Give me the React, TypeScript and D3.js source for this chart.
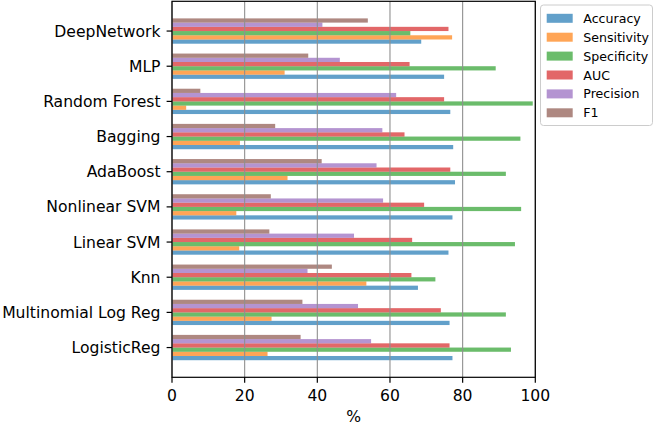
import React from "react";
import * as d3 from "d3";

const categories = [
  "LogisticReg",
  "Multinomial Log Reg",
  "Knn",
  "Linear SVM",
  "Nonlinear SVM",
  "AdaBoost",
  "Bagging",
  "Random Forest",
  "MLP",
  "DeepNetwork",
];
const seriesNames = ["Accuracy", "Sensitivity", "Specificity", "AUC", "Precision", "F1"];
const accuracy = [77.2, 76.4, 67.7, 76.1, 77.2, 77.9, 77.4, 76.6, 74.9, 68.6];
const sensitivity = [26.3, 27.4, 53.5, 18.5, 17.7, 31.8, 18.7, 3.9, 31.0, 77.1];
const specificity = [93.3, 91.9, 72.5, 94.4, 96.1, 91.9, 95.9, 99.3, 89.1, 65.6];
const auc = [76.4, 74.0, 65.9, 66.1, 69.4, 76.6, 64.0, 74.9, 65.4, 76.1];
const precision = [54.8, 51.2, 37.3, 50.1, 58.1, 56.3, 57.9, 61.7, 46.2, 41.4];
const f1 = [35.4, 35.9, 44.0, 26.8, 27.2, 41.2, 28.4, 7.8, 37.5, 53.9];
const xTicks = [0, 20, 40, 60, 80, 100];

const seriesValues = [accuracy, sensitivity, specificity, auc, precision, f1];
const colors = ["#1f77b4", "#ff7f0e", "#2ca02c", "#d62728", "#9467bd", "#8c564b"];

const W = 656;
const H = 424;
const left = 172;
const right = 535.3;
const top = 1.3;
const bottom = 377.3;
const barW = 0.12;
const FONT = "DejaVu Sans, sans-serif";
const FS = 15.6;

export default function App() {
  const x = d3.scaleLinear().domain([0, 100]).range([left, right]);
  const y = d3.scaleLinear().domain([-0.846, 9.846]).range([bottom, top]);
  const bh = y(0) - y(barW);

  return (
    <div style={{ position: "fixed", left: 0, top: 0 }}>
      <svg width={W} height={H} style={{ display: "block", background: "#fff" }}>
        {/* bars */}
        {categories.map((c, ci) => (
          <g key={c}>
            {seriesValues.map((vals, si) => {
              const center = ci + (si - 2.5) * barW;
              return (
                <rect
                  key={si}
                  x={x(0)}
                  y={y(center + barW / 2)}
                  width={x(vals[ci]) - x(0)}
                  height={bh}
                  fill={colors[si]}
                  fillOpacity={0.7}
                />
              );
            })}
          </g>
        ))}
        {/* grid */}
        {xTicks.map((t) => (
          <line
            key={"g" + t}
            x1={x(t)}
            x2={x(t)}
            y1={top}
            y2={bottom}
            stroke="#8f8f8f"
            strokeWidth={1.1}
          />
        ))}
        {/* spines */}
        <rect
          x={left}
          y={top}
          width={right - left}
          height={bottom - top}
          fill="none"
          stroke="#000"
          strokeWidth={1.2}
        />
        {/* x ticks */}
        {xTicks.map((t) => (
          <g key={"xt" + t}>
            <line x1={x(t)} x2={x(t)} y1={bottom} y2={bottom + 5.4} stroke="#000" strokeWidth={1.2} />
            <text
              x={x(t)}
              y={bottom + 24}
              textAnchor="middle"
              fontFamily={FONT}
              fontSize={FS}
              fill="#000"
            >
              {t}
            </text>
          </g>
        ))}
        <text x={(left + right) / 2} y={421.5} textAnchor="middle" fontFamily={FONT} fontSize={FS}>
          %
        </text>
        {/* y ticks */}
        {categories.map((c, ci) => (
          <g key={"yt" + c}>
            <line x1={left - 5.4} x2={left} y1={y(ci)} y2={y(ci)} stroke="#000" strokeWidth={1.2} />
            <text
              x={left - 11.5}
              y={y(ci)}
              dy="0.36em"
              textAnchor="end"
              fontFamily={FONT}
              fontSize={FS}
              fill="#000"
            >
              {c}
            </text>
          </g>
        ))}
        {/* legend */}
        <rect x={540.5} y={5} width={112} height={120.5} rx={3} fill="#fff" fillOpacity={0.8} stroke="#cccccc" strokeWidth={1} />
        {seriesNames.map((s, si) => {
          const cy = 18.3 + si * 18.9;
          return (
            <g key={"lg" + s}>
              <rect x={546.7} y={cy - 4.5} width={26} height={9} fill={colors[si]} fillOpacity={0.7} />
              <text x={583.3} y={cy} dy="0.36em" fontFamily={FONT} fontSize={12.6} fill="#000">
                {s}
              </text>
            </g>
          );
        })}
      </svg>
    </div>
  );
}
